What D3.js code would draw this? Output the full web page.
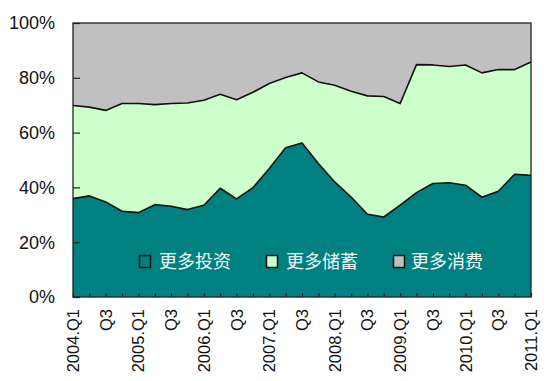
<!DOCTYPE html>
<html><head><meta charset="utf-8">
<script src="https://cdn.jsdelivr.net/npm/d3@7"></script>
<style>html,body{margin:0;padding:0;background:#fff;}</style>
</head><body>
<svg id="chart" width="550" height="381"></svg>
<script>
const quarters = ["2004.Q1","2004.Q2","2004.Q3","2004.Q4","2005.Q1","2005.Q2","2005.Q3","2005.Q4","2006.Q1","2006.Q2","2006.Q3","2006.Q4","2007.Q1","2007.Q2","2007.Q3","2007.Q4","2008.Q1","2008.Q2","2008.Q3","2008.Q4","2009.Q1","2009.Q2","2009.Q3","2009.Q4","2010.Q1","2010.Q2","2010.Q3","2010.Q4","2011.Q1"];
const tickLabels = ["2004.Q1","Q3","2005.Q1","Q3","2006.Q1","Q3","2007.Q1","Q3","2008.Q1","Q3","2009.Q1","Q3","2010.Q1","Q3","2011.Q1"];
const seriesNames = ["更多投资","更多储蓄","更多消费"];
const invest = [35.9,36.9,34.7,31.3,30.8,33.7,33.1,31.9,33.5,39.7,35.8,39.9,46.9,54.5,56.2,48.7,42.0,36.5,30.2,29.2,33.5,38.1,41.4,41.7,40.8,36.4,38.6,44.8,44.4];
const savings = [34.0,32.4,33.4,39.3,39.8,36.5,37.5,38.9,38.3,34.3,36.2,34.8,31.0,25.6,25.6,29.8,35.3,38.6,43.2,44.0,37.1,46.7,43.3,42.4,43.9,45.4,44.4,38.2,41.4];
const consumption = [30.1,30.7,31.9,29.4,29.4,29.8,29.4,29.2,28.2,26.0,28.0,25.3,22.1,19.9,18.2,21.5,22.7,24.9,26.6,26.8,29.4,15.2,15.3,15.9,15.3,18.2,17.0,17.0,14.2];
const yTicks = [0,20,40,60,80,100];
const colors = ["#008080","#CCFFCC","#C0C0C0"];

const svg = d3.select("#chart");
const L = 73, R = 531, T = 23, B = 297;
const table = quarters.map((q,i)=>({q, a:invest[i], b:savings[i], c:consumption[i]}));
const keys = ["a","b","c"];
const stack = d3.stack().keys(keys)(table);

const x = d3.scalePoint().domain(quarters).range([L,R]);
const y = d3.scaleLinear().domain([0,100]).range([B,T]);

const area = d3.area().x(d=>x(d.data.q)).y0(d=>y(d[0])).y1(d=>y(d[1]));
const line = d3.line().x(d=>x(d.data.q)).y(d=>y(d[1]));

svg.append("g").selectAll("path").data(stack).join("path")
  .attr("d", area).attr("fill", (d,i)=>colors[i]);

svg.append("g").selectAll("path").data(stack.slice(0,2)).join("path")
  .attr("d", line).attr("fill","none").attr("stroke","#111").attr("stroke-width",1.6).attr("stroke-linejoin","round");

// y ticks (inside)
const yAxis = d3.axisRight(y).tickValues(yTicks).tickSize(7).tickFormat("");
svg.append("g").attr("transform",`translate(${L},0)`).call(yAxis)
  .call(g=>g.select(".domain").remove())
  .call(g=>g.selectAll("line").attr("stroke","#222").attr("stroke-width",1.2));
svg.append("g").selectAll("text").data(yTicks).join("text")
  .attr("x", 55).attr("y", d=>y(d)).attr("dy","0.36em")
  .attr("text-anchor","end").attr("font-family","Liberation Sans, Arial, sans-serif")
  .attr("font-size",18).attr("fill","#111").text(d=>d+"%");

// x ticks (inside, pointing up)
const xAxis = d3.axisTop(x).tickSize(4).tickFormat("");
svg.append("g").attr("transform",`translate(0,${B})`).call(xAxis)
  .call(g=>g.select(".domain").remove())
  .call(g=>g.selectAll("line").attr("stroke","#222").attr("stroke-width",1.2));

const labeled = quarters.filter((q,i)=>i%2===0);
svg.append("g").selectAll("text").data(labeled).join("text")
  .attr("transform",(d)=>`translate(${x(d)},309) rotate(-90)`)
  .attr("text-anchor","end").attr("dy","0.36em")
  .attr("font-family","Liberation Sans, Arial, sans-serif")
  .attr("font-size",16.5).attr("fill","#111")
  .text((d,i)=>tickLabels[i]);

// plot border
svg.append("rect").attr("x",L).attr("y",T).attr("width",R-L).attr("height",B-T)
  .attr("fill","none").attr("stroke","#222").attr("stroke-width",1.3);

// legend
const legX = [139,266,393];
const lg = svg.append("g").selectAll("g").data(seriesNames).join("g")
  .attr("transform",(d,i)=>`translate(${legX[i]},255)`);
lg.append("rect").attr("x",0.5).attr("y",0.5).attr("width",11).attr("height",12)
  .attr("fill",(d,i)=>colors[i]).attr("stroke","#111").attr("stroke-width",1.5);
lg.append("text").attr("x",(d,i)=>i===2?18:20).attr("y",7).attr("dy","0.36em")
  .attr("font-family","Noto Sans CJK SC, sans-serif").attr("font-size",18)
  .attr("fill","#EEF8F8").text(d=>d);
</script>
</body></html>
